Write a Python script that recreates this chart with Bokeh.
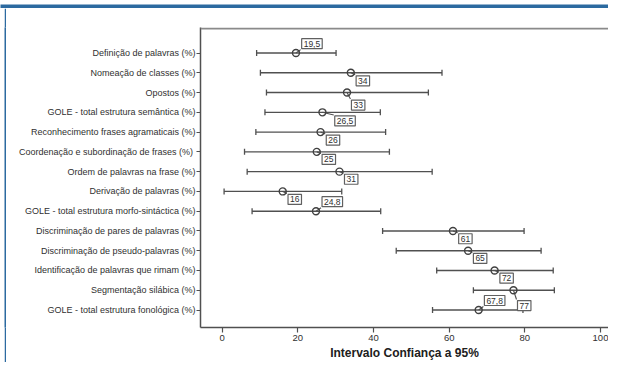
import math
from bokeh.plotting import figure
from bokeh.layouts import column, row
from bokeh.models import Range1d, FixedTicker, Span, ColumnDataSource, Spacer
from bokeh.embed import file_html
from bokeh.resources import INLINE
from bokeh.core.properties import value

categories = [
    "Definição de palavras (%)",
    "Nomeação de classes (%)",
    "Opostos (%)",
    "GOLE - total estrutura semântica (%)",
    "Reconhecimento frases agramaticais (%)",
    "Coordenação e  subordinação de frases (%)",
    "Ordem de palavras na frase (%)",
    "Derivação de palavras (%)",
    "GOLE - total estrutura morfo-sintáctica (%)",
    "Discriminação de pares de palavras (%)",
    "Discriminação de pseudo-palavras (%)",
    "Identificação de palavras que rimam (%)",
    "Segmentação silábica (%)",
    "GOLE - total estrutura fonológica (%)",
]
means = [19.5, 34, 33, 26.5, 26, 25, 31, 16, 24.8, 61, 65, 72, 77, 67.8]
lower = [9.1, 10.1, 11.7, 11.3, 8.9, 5.9, 6.6, 0.5, 7.9, 42.4, 46.0, 56.7, 66.4, 55.6]
upper = [30.1, 58.1, 54.5, 41.8, 43.2, 44.2, 55.5, 31.6, 41.9, 79.8, 84.3, 87.5, 87.8, 79.5]
value_labels = ["19,5", "34", "33", "26,5", "26", "25", "31", "16", "24,8",
                "61", "65", "72", "77", "67,8"]
x_ticks = [0, 20, 40, 60, 80, 100]

# label box placement relative to marker (screen px: left edge dx, centre dy downwards)
label_dx = [3.7, 3.3, 2.4, 10.3, 3.7, 3.3, 3.0, 3.3, 4.0, 3.7, 3.3, 3.3, 2.0, 3.7]
label_dy = [-9.4, 8, 12.5, 8.6, 8, 7.6, 7.6, 8, -9.5, 7.8, 7.7, 7.7, 15.3, -9.5]

FONT = "Liberation Sans"
BLUE = "#2c6aa0"
TOTAL_W, TOTAL_H = 608, 362
HEADER_H = 8
GAP_W, LINE_W = 4, 2
W = TOTAL_W - GAP_W - LINE_W           # 602
H = TOTAL_H - HEADER_H                 # 354
ML, MT, MB = 194, 19, 33
frame_w = W - ML
frame_h = H - MT - MB
axis_img_y = HEADER_H + H - MB
x0_img, x100_img = 221.7, 600.0
sx = (x100_img - x0_img) / 100.0
xr = Range1d((200 - x0_img) / sx, (608 - x0_img) / sx)
row_gap = 19.9
row0_img = 52.7
yr = Range1d(13 + (axis_img_y - (row0_img + 13 * row_gap)) / row_gap,
             -(row0_img - 27) / row_gap)

p = figure(width=W, height=H, x_range=xr, y_range=yr, output_backend="svg",
           toolbar_location=None, min_border_left=ML, min_border_top=MT,
           min_border_bottom=MB, min_border_right=0)
p.outline_line_color = None
p.grid.visible = False
p.background_fill_color = "white"
p.border_fill_color = "white"

ys = list(range(len(categories)))
src = ColumnDataSource(dict(y=ys, m=means, lo=lower, hi=upper, lab=value_labels,
                            dx=[d + 2 for d in label_dx], dy=label_dy))

px_x = frame_w / (xr.end - xr.start)
px_y = frame_h / (yr.start - yr.end)

p.segment(x0="lo", x1="hi", y0="y", y1="y", source=src, line_color="#505050", line_width=1.4)
p.scatter(x="lo", y="y", source=src, marker="dash", angle=math.pi / 2, size=6,
          line_color="#505050", line_width=1.3)
p.scatter(x="hi", y="y", source=src, marker="dash", angle=math.pi / 2, size=6,
          line_color="#505050", line_width=1.3)

# leader lines from marker to label box corner
lx1, ly1 = [], []
for m, yy, dx, dy in zip(means, ys, label_dx, label_dy):
    lx1.append(m + (dx + 1) / px_x)
    corner = dy - 6 if dy > 0 else dy + 6
    ly1.append(yy + corner / px_y)
p.segment(x0=means, y0=ys, x1=lx1, y1=ly1, line_color="#505050", line_width=1.1)

p.scatter(x="m", y="y", source=src, marker="circle", size=7, fill_color=None,
          line_color="#404040", line_width=1.4)

p.text(x="m", y="y", text="lab", source=src, x_offset="dx", y_offset="dy",
       text_font=value(FONT), text_font_size="8.5px",
       text_color="#303030", text_align="left", text_baseline="middle",
       background_fill_color="white", border_line_color="#606060", border_line_width=1.2,
       padding=(2, 2))

# axes
p.yaxis.ticker = FixedTicker(ticks=ys)
p.yaxis.major_label_overrides = {i: c for i, c in enumerate(categories)}
p.yaxis.minor_tick_line_color = None
p.yaxis.major_tick_out = 4
p.yaxis.major_tick_in = 0
p.yaxis.major_label_standoff = 1
p.yaxis.major_label_text_font = FONT
p.yaxis.major_label_text_font_size = "9px"
p.yaxis.major_label_text_color = "#303030"
p.yaxis.axis_line_color = "#505050"
p.yaxis.axis_line_width = 1.5
p.yaxis.major_tick_line_color = "#505050"
p.yaxis.major_tick_line_width = 1.2

p.xaxis.ticker = FixedTicker(ticks=x_ticks)
p.xaxis.minor_tick_line_color = None
p.xaxis.major_tick_out = 5
p.xaxis.major_tick_in = 0
p.xaxis.major_label_standoff = 2
p.xaxis.major_label_text_font = FONT
p.xaxis.major_label_text_font_size = "9.5px"
p.xaxis.major_label_text_color = "#303030"
p.xaxis.axis_line_color = "#505050"
p.xaxis.axis_line_width = 1.5
p.xaxis.major_tick_line_color = "#505050"
p.xaxis.major_tick_line_width = 1.2
p.xaxis.axis_label = "Intervalo Confiança a 95%"
p.xaxis.axis_label_text_font = FONT
p.xaxis.axis_label_text_font_style = "bold"
p.xaxis.axis_label_text_font_size = "12px"
p.xaxis.axis_label_text_color = "#202020"
p.xaxis.axis_label_standoff = 2

# top frame line (drawn just inside the frame so it is not clipped)
p.add_layout(Span(location=yr.end + 1.0 / px_y, dimension="width",
                  line_color="#8a8a8a", line_width=2))


def block(w, h, color):
    f = figure(width=w, height=h, output_backend="svg", toolbar_location=None,
               min_border=0, x_axis_type=None, y_axis_type=None)
    f.outline_line_color = None
    f.background_fill_color = color
    f.border_fill_color = color
    f.grid.visible = False
    return f


header = block(TOTAL_W, HEADER_H, BLUE)
gap = Spacer(width=GAP_W, height=H)
bar = block(LINE_W, H, BLUE)
root = column(header, row(gap, bar, p))

open("out.html", "w").write(file_html(root, INLINE))
